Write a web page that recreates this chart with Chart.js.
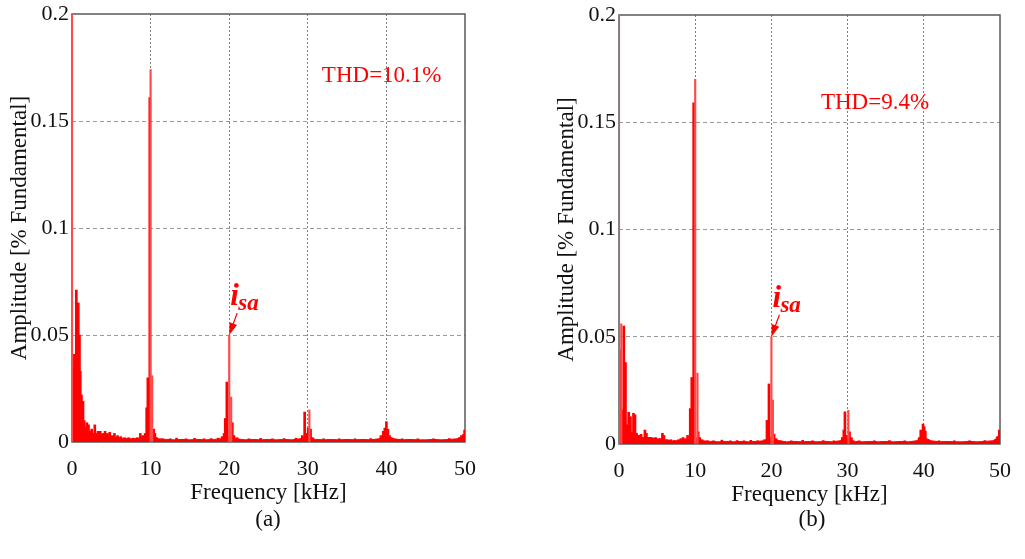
<!DOCTYPE html>
<html>
<head>
<meta charset="utf-8">
<script src="https://cdn.jsdelivr.net/npm/chart.js@4.4.0/dist/chart.umd.min.js"></script>
<style>
  html, body { margin: 0; padding: 0; background: #fff; overflow: hidden; }
  body { width: 1025px; height: 559px; position: relative; font-family: "Liberation Serif", serif; }
  #chartA { position: absolute; left: 0; top: 0; }
  #chartB { position: absolute; left: 547px; top: 0; }
  .cap { position: absolute; top: 506px; width: 60px; text-align: center; font-size: 23px; color: #111; }
</style>
</head>
<body>
<canvas id="chartA" width="530" height="559"></canvas>
<canvas id="chartB" width="478" height="559"></canvas>
<div class="cap" style="left:238px">(a)</div>
<div class="cap" style="left:782px">(b)</div>
<script>
// axis ticks
const xTicks = [0, 10, 20, 30, 40, 50];
const yTicks = [0, 0.05, 0.1, 0.15, 0.2];

// noise floor, read every 1 kHz
const floorFreq = [0,1,2,3,4,5,6,7,8,9,10,11,12,13,14,15,16,17,18,19,20,21,22,23,24,25,
  26,27,28,29,30,31,32,33,34,35,36,37,38,39,40,41,42,43,44,45,46,47,48,49,50];

// (a) THD=10.1%
const spikeFreqA = [0.15,0.3,0.42,0.55,0.7,0.8,0.95,1.05,1.2,1.4,1.55,1.75,1.9,2.1,2.3,2.5,2.7,2.9,3.1,3.3,
  3.6,3.9,4.2,4.5,4.8,5.1,5.4,5.8,6.2,6.7,7.2,7.8,8.3,8.7,9.0,9.3,9.5,9.65,9.9,10.4,
  10.55,10.8,11.5,12.5,13.3,14.5,15.6,16.8,17.7,18.6,19.1,19.35,19.5,19.7,20.4,20.6,21.0,22.5,24.0,25.5,
  27.0,28.5,29.3,29.6,29.8,30.05,30.35,30.6,32,34,36,38,39.3,39.6,39.8,40.0,40.2,40.4,42,44,
  46,48,49.3,49.55,49.8,49.95];
const spikeAmpA = [0.035,0.041,0.02,0.071,0.06,0.065,0.05,0.033,0.022,0.019,0.01,0.007,0.009,0.008,0.005,0.006,0.004,0.008,0.004,0.005,
  0.005,0.004,0.005,0.004,0.0045,0.003,0.004,0.003,0.0025,0.002,0.002,0.0018,0.002,0.004,0.003,0.004,0.016,0.03,0.161,0.006,
  0.004,0.002,0.0015,0.0015,0.0018,0.0015,0.0017,0.0015,0.0016,0.0018,0.0025,0.004,0.011,0.028,0.009,0.003,0.002,0.0015,0.0017,0.0015,
  0.0016,0.0018,0.003,0.014,0.004,0.0065,0.006,0.002,0.0015,0.0015,0.0015,0.0016,0.003,0.005,0.0065,0.0095,0.006,0.003,0.0015,0.0015,
  0.0015,0.0016,0.002,0.003,0.0035,0.0056];
const thinFreqA = [0, 10.0, 10.2, 20.0, 20.25, 30.2];
const thinAmpA = [1, 0.174, 0.031, 0.05, 0.021, 0.015];
const floorAmpA = [0.004,0.006,0.004,0.003,0.003,0.0025,0.002,0.0015,0.0015,0.002,
  0.003,0.0015,0.0012,0.001,0.0012,0.001,0.0012,0.001,0.0012,0.0015,
  0.003,0.0015,0.001,0.0012,0.001,0.0012,0.001,0.0012,0.001,0.0015,
  0.0025,0.0012,0.001,0.0012,0.001,0.0012,0.001,0.0012,0.001,0.0015,
  0.003,0.0015,0.001,0.0012,0.001,0.001,0.0012,0.001,0.0012,0.0015,0.003];

// (b) THD=9.4%
const spikeFreqB = [0.12,0.4,0.63,0.85,1.06,1.27,1.5,1.7,1.9,2.1,2.3,2.6,2.9,3.2,3.4,3.6,3.9,4.2,4.5,4.8,
  5.1,5.4,5.7,5.9,6.3,6.8,7.3,7.8,8.1,8.4,8.7,9.0,9.35,9.55,9.8,10.4,10.6,10.9,11.6,12.4,
  13.5,14.6,15.5,16.4,17.3,18.2,19.1,19.42,19.68,20.35,20.6,21.2,22.6,24.1,25.4,26.8,28.2,29.3,29.5,29.65,
  29.85,30.25,30.5,31.5,33.5,35.5,37.5,39.4,39.6,39.9,40.05,40.2,40.45,42,44,46,48,49.4,49.6,49.7,49.9];
const spikeAmpB = [0.044,0.016,0.055,0.038,0.009,0.0148,0.0127,0.0035,0.0143,0.0136,0.005,0.004,0.0045,0.003,0.0065,0.005,0.003,0.003,0.0025,0.003,
  0.002,0.0025,0.005,0.004,0.002,0.002,0.0015,0.002,0.0025,0.003,0.0025,0.004,0.0165,0.031,0.159,0.0057,0.003,0.002,0.0015,0.0015,
  0.0018,0.0015,0.0016,0.0015,0.0017,0.0015,0.002,0.011,0.028,0.0046,0.0025,0.0015,0.0015,0.0017,0.0015,0.0016,0.0015,0.003,0.0065,0.015,
  0.004,0.0057,0.003,0.0015,0.0015,0.0016,0.0015,0.003,0.0065,0.0093,0.008,0.006,0.002,0.0015,0.0015,0.0015,0.0016,0.002,0.003,0.0035,0.0065];
const thinFreqB = [0, 0.3, 10.0, 10.3, 20.0, 20.2, 30.1];
const thinAmpB = [1, 0.056, 0.17, 0.033, 0.05, 0.0205, 0.0157];
const floorAmpB = [0.005,0.006,0.005,0.003,0.003,0.0025,0.002,0.0015,0.0015,0.002,
  0.003,0.0015,0.0012,0.001,0.0012,0.001,0.0012,0.001,0.0012,0.0015,
  0.003,0.0015,0.001,0.0012,0.001,0.0012,0.001,0.0012,0.001,0.0015,
  0.0025,0.0012,0.001,0.0012,0.001,0.0012,0.001,0.0012,0.001,0.0015,
  0.003,0.0015,0.001,0.0012,0.001,0.001,0.0012,0.001,0.0012,0.0015,0.003];

const FONT = 'Liberation Serif';
const pairs = (xs, ys) => xs.map((x, i) => ({ x: x, y: ys[i] }));

// frame, THD label and the i_sa arrow
const notesPlugin = {
  id: 'notes',
  beforeDatasetsDraw(chart) {
    const { ctx, chartArea: a } = chart;
    ctx.save();
    ctx.strokeStyle = '#5a5a5a';
    ctx.lineWidth = 1.5;
    ctx.strokeRect(a.left, a.top, a.right - a.left, a.bottom - a.top);
    ctx.restore();
  },
  afterDatasetsDraw(chart, args, opts) {
    const { ctx, scales: { x, y } } = chart;
    ctx.save();
    ctx.fillStyle = '#ff0000';
    ctx.strokeStyle = '#ff0000';
    ctx.font = '23px "' + FONT + '"';
    ctx.textAlign = 'center';
    ctx.textBaseline = 'middle';
    ctx.fillText(opts.thd, x.getPixelForValue(opts.thdAt[0]), y.getPixelForValue(opts.thdAt[1]));

    const tx = x.getPixelForValue(opts.tip[0]);
    const ty = y.getPixelForValue(opts.tip[1]);
    const sx = tx + 8, sy = ty - 22;
    const ang = Math.atan2(ty - sy, tx - sx);
    const c = Math.cos(ang), s = Math.sin(ang);
    ctx.lineWidth = 1.2;
    ctx.beginPath();
    ctx.moveTo(sx, sy);
    ctx.lineTo(tx - 9 * c, ty - 9 * s);
    ctx.stroke();
    ctx.beginPath();
    ctx.moveTo(tx, ty);
    ctx.lineTo(tx - 12 * c + 4 * s, ty - 12 * s - 4 * c);
    ctx.lineTo(tx - 12 * c - 4 * s, ty - 12 * s + 4 * c);
    ctx.closePath();
    ctx.fill();

    ctx.textAlign = 'left';
    ctx.textBaseline = 'alphabetic';
    ctx.font = 'italic bold 31px "' + FONT + '"';
    ctx.fillText('i', tx + 1, ty - 30);
    ctx.font = 'italic bold 23px "' + FONT + '"';
    ctx.fillText('sa', tx + 9, ty - 25);
    ctx.restore();
  }
};

function buildChart(id, d) {
  return new Chart(document.getElementById(id), {
    type: 'bar',
    data: {
      datasets: [
        {
          data: pairs(d.thinF, d.thinA),
          backgroundColor: '#ff4a4a',
          barThickness: 1.5,
          grouped: false,
          order: 1
        },
        {
          data: pairs(d.spikeF, d.spikeA),
          backgroundColor: '#ff0000',
          barThickness: 2,
          grouped: false,
          order: 2
        },
        {
          type: 'line',
          data: pairs(floorFreq, d.floorA),
          borderColor: '#ff0000',
          backgroundColor: '#ff0000',
          borderWidth: 1,
          pointRadius: 0,
          tension: 0,
          fill: 'origin',
          order: 3
        }
      ]
    },
    options: {
      responsive: false,
      animation: false,
      layout: { padding: d.pad },
      plugins: {
        legend: { display: false },
        tooltip: { enabled: false },
        notes: d.notes
      },
      scales: {
        x: {
          type: 'linear',
          min: 0,
          max: 50,
          offset: false,
          afterBuildTicks: s => { s.ticks = xTicks.map(v => ({ value: v })); },
          afterFit: s => { s.height = 70; },
          grid: {
            offset: false,
            color: c => (c.tick && (c.tick.value === 0 || c.tick.value === 50)) ? 'rgba(0,0,0,0)' : '#808080',
            drawTicks: false
          },
          border: { display: false, dash: [2, 2] },
          ticks: { font: { family: FONT, size: 22 }, color: '#111', padding: 14, maxRotation: 0 },
          title: {
            display: true,
            text: 'Frequency [kHz]',
            font: { family: FONT, size: 23 },
            color: '#111',
            padding: { top: 0, bottom: 5 }
          }
        },
        y: {
          min: 0,
          max: 0.2,
          afterBuildTicks: s => { s.ticks = yTicks.map(v => ({ value: v })); },
          afterFit: s => { s.width = 72; },
          grid: {
            color: c => (c.tick && (c.tick.value === 0 || c.tick.value === 0.2)) ? 'rgba(0,0,0,0)' : '#9a9a9a',
            drawTicks: false
          },
          border: { display: false, dash: [4, 3] },
          ticks: {
            font: { family: FONT, size: 22, lineHeight: 1 },
            color: '#111',
            padding: 3,
            callback: v => String(+v.toFixed(2))
          },
          title: {
            display: true,
            text: 'Amplitude [% Fundamental]',
            font: { family: FONT, size: 23 },
            color: '#111',
            padding: { top: 6, bottom: 0 }
          }
        }
      }
    },
    plugins: [notesPlugin]
  });
}

buildChart('chartA', {
  spikeF: spikeFreqA, spikeA: spikeAmpA,
  thinF: thinFreqA, thinA: thinAmpA,
  floorA: floorAmpA,
  pad: { left: 0, top: 13, right: 65, bottom: 47 },
  notes: { thd: 'THD=10.1%', thdAt: [39.4, 0.171], tip: [20, 0.05] }
});

buildChart('chartB', {
  spikeF: spikeFreqB, spikeA: spikeAmpB,
  thinF: thinFreqB, thinA: thinAmpB,
  floorA: floorAmpB,
  pad: { left: 0, top: 15, right: 13, bottom: 45 },
  notes: { thd: 'THD=9.4%', thdAt: [33.6, 0.159], tip: [20, 0.05] }
});
</script>
</body>
</html>
